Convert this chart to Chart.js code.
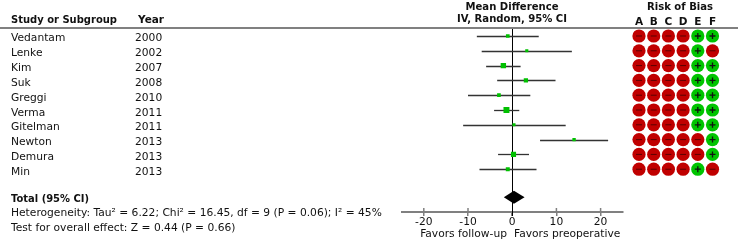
<!DOCTYPE html>
<html lang="en">
<head>
<meta charset="UTF-8" />
<title>Forest plot</title>
<script src="https://cdn.jsdelivr.net/npm/chart.js"></script>
<style>body{margin:0;background:#fff}</style>
</head>
<body>
<canvas id="forestChart" width="741" height="241"></canvas>
<script>
const studies = ["Vedantam", "Lenke", "Kim", "Suk", "Greggi", "Verma", "Gitelman", "Newton", "Demura", "Min"];
const years = ["2000", "2002", "2007", "2008", "2010", "2011", "2011", "2013", "2013", "2013"];
const meanDiff = [-1.0, 3.3, -2.0, 3.1, -3.0, -1.3, 0.4, 14.0, 0.3, -1.0];
const ciLow = [-8.0, -6.9, -5.9, -3.4, -10.0, -4.1, -11.1, 6.3, -3.2, -7.4];
const ciHigh = [6.0, 13.5, 1.9, 9.8, 4.1, 1.6, 12.1, 21.7, 3.8, 5.5];
const weights = [8, 6, 14, 10, 8, 16, 6, 7, 13, 9];
const totalEst = [0.4, -1.9, 2.8]; // estimate, lower, upper
const xTicks = [-20, -10, 0, 10, 20];
const biasDomains = ["A", "B", "C", "D", "E", "F"];
const biasRatings = ["----++", "----+-", "----++", "----++", "----++", "----++", "----++", "-----+", "-----+", "----+-"];

const FONT = "DejaVu Sans";

const forestPlugin = {
  id: "forest",
  beforeDatasetsDraw(chart) {
    const { ctx, scales: { x, y }, chartArea } = chart;
    ctx.save();
    // line of no effect
    const x0 = Math.round(x.getPixelForValue(0)) + 0.5;
    ctx.strokeStyle = "#000";
    ctx.lineWidth = 1;
    ctx.beginPath();
    ctx.moveTo(x0, chartArea.top);
    ctx.lineTo(x0, chartArea.bottom + 4);
    ctx.stroke();
    // confidence intervals
    ctx.strokeStyle = "#333";
    ctx.lineWidth = 1.3;
    studies.forEach((s, i) => {
      const py = Math.round(y.getPixelForValue(i)) + 0.5;
      ctx.beginPath();
      ctx.moveTo(x.getPixelForValue(ciLow[i]), py);
      ctx.lineTo(x.getPixelForValue(ciHigh[i]), py);
      ctx.stroke();
    });
    ctx.restore();
  },
  afterDraw(chart) {
    const { ctx, scales: { x, y }, chartArea } = chart;
    ctx.save();

    // header rule
    ctx.strokeStyle = "#808080";
    ctx.lineWidth = 2;
    ctx.beginPath();
    ctx.moveTo(0, chartArea.top);
    ctx.lineTo(738, chartArea.top);
    ctx.stroke();

    // tick marks above the axis
    ctx.lineWidth = 1.5;
    xTicks.forEach(v => {
      if (v === 0) return;
      const px = x.getPixelForValue(v);
      ctx.beginPath();
      ctx.moveTo(px, chartArea.bottom - 4);
      ctx.lineTo(px, chartArea.bottom);
      ctx.stroke();
    });

    // pooled diamond
    const ty = y.getPixelForValue(studies.length + 0.9);
    ctx.fillStyle = "#000";
    ctx.beginPath();
    ctx.moveTo(x.getPixelForValue(totalEst[1]), ty);
    ctx.lineTo(x.getPixelForValue(totalEst[0]), ty - 6.5);
    ctx.lineTo(x.getPixelForValue(totalEst[2]), ty);
    ctx.lineTo(x.getPixelForValue(totalEst[0]), ty + 6.5);
    ctx.closePath();
    ctx.fill();

    // texts
    ctx.fillStyle = "#111";
    ctx.textBaseline = "alphabetic";
    const bold = "bold 10.5px '" + FONT + "'";
    const norm = "10.7px '" + FONT + "'";

    ctx.font = bold;
    ctx.textAlign = "left";
    ctx.fillText("Study or Subgroup", 11, 23, 106);
    ctx.fillText("Year", 138, 23);
    ctx.textAlign = "center";
    ctx.fillText("Mean Difference", 512, 10, 93);
    ctx.fillText("IV, Random, 95% CI", 512, 22, 110);
    ctx.fillText("Risk of Bias", 680, 10, 66);

    ctx.font = norm;
    ctx.textAlign = "left";
    studies.forEach((s, i) => {
      const py = y.getPixelForValue(i) + 5.5;
      ctx.fillText(s, 11, py);
      ctx.fillText(years[i], 135, py);
    });

    ctx.font = bold;
    ctx.fillText("Total (95% CI)", 11, ty + 4.5, 78);
    ctx.font = norm;
    ctx.fillText("Heterogeneity: Tau\u00b2 = 6.22; Chi\u00b2 = 16.45, df = 9 (P = 0.06); I\u00b2 = 45%", 11, 216, 373);
    ctx.fillText("Test for overall effect: Z = 0.44 (P = 0.66)", 11, 231, 230);

    ctx.textAlign = "right";
    ctx.fillText("Favors follow-up", 507, 237, 88);
    ctx.textAlign = "left";
    ctx.fillText("Favors preoperative", 514, 237, 108);

    // risk of bias
    const colX = j => 639 + 14.7 * j;
    ctx.font = bold;
    ctx.textAlign = "center";
    biasDomains.forEach((d, j) => ctx.fillText(d, colX(j), 24.5));
    biasRatings.forEach((r, i) => {
      const py = y.getPixelForValue(i);
      r.split("").forEach((c, j) => {
        const cx = colX(j);
        ctx.fillStyle = c === "+" ? "#00c400" : "#c00000";
        ctx.beginPath();
        ctx.arc(cx, py, 6.6, 0, Math.PI * 2);
        ctx.fill();
        ctx.strokeStyle = c === "+" ? "#111" : "#5a0000";
        ctx.lineWidth = c === "+" ? 1.3 : 1;
        ctx.beginPath();
        ctx.moveTo(cx - 3, py);
        ctx.lineTo(cx + 3, py);
        if (c === "+") {
          ctx.moveTo(cx, py - 3);
          ctx.lineTo(cx, py + 3);
        }
        ctx.stroke();
      });
    });
    ctx.restore();
  }
};

const ctx = document.getElementById("forestChart").getContext("2d");
new Chart(ctx, {
  type: "scatter",
  data: {
    datasets: [{
      data: studies.map((s, i) => ({ x: meanDiff[i], y: i })),
      pointStyle: "rect",
      pointRadius: weights.map(w => 1.0 + w * 0.2),
      backgroundColor: "#00c000",
      borderWidth: 0
    }]
  },
  options: {
    responsive: false,
    animation: false,
    layout: { padding: { left: 401.7, right: 118.3, top: 28, bottom: 4 } },
    plugins: { legend: { display: false }, tooltip: { enabled: false } },
    scales: {
      x: {
        type: "linear",
        min: -25,
        max: 25,
        afterBuildTicks: s => { s.ticks = xTicks.map(v => ({ value: v })); },
        afterFit: s => { s.height = 25; },
        grid: { drawOnChartArea: false, tickLength: 4, color: "#808080", lineWidth: 1.5 },
        border: { color: "#808080", width: 2 },
        ticks: { font: { family: FONT, size: 10.7 }, color: "#111", padding: 0, maxRotation: 0 }
      },
      y: { display: false, min: -0.54, max: 11.89, reverse: true }
    }
  },
  plugins: [forestPlugin]
});
</script>
</body>
</html>
